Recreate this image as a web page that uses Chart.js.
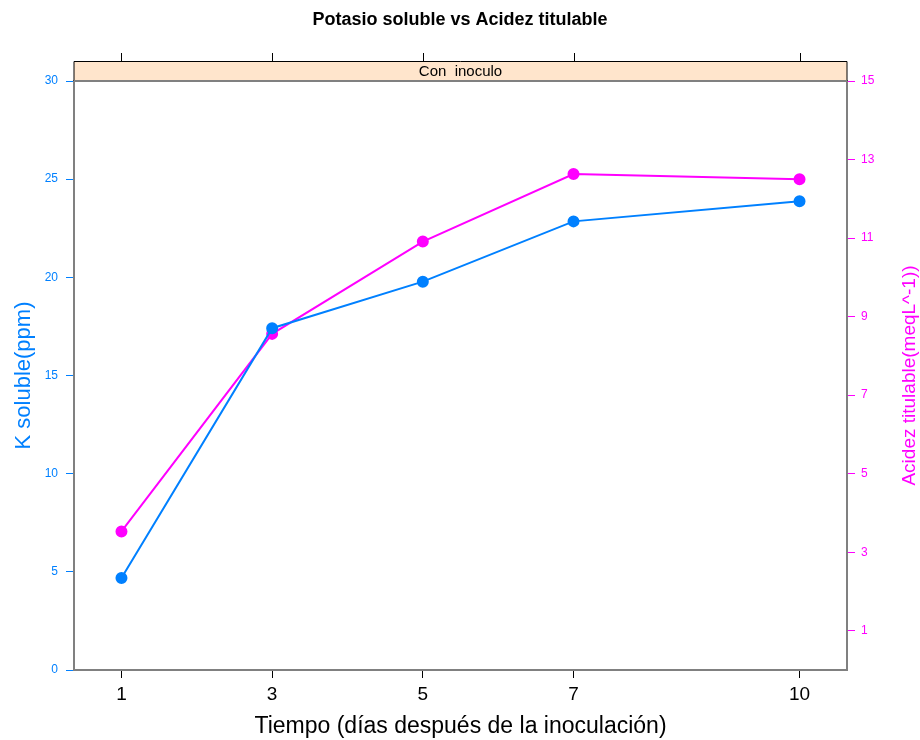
<!DOCTYPE html>
<html>
<head>
  <title>Potasio soluble vs Acidez titulable</title>
  <script src="https://cdn.jsdelivr.net/npm/chart.js"></script>
  <style>
    body { margin: 0; background: #fff; }
  </style>
</head>
<body>
  <canvas id="chart" width="920" height="740"></canvas>

  <script>
    const dias = [1, 3, 5, 7, 10];
    const kSoluble = [4.69, 17.41, 19.78, 22.85, 23.88];
    const acidez = [3.53, 8.56, 10.91, 12.63, 12.50];
    const xTicks = [1, 3, 5, 7, 10];
    const leftTicks = [0, 5, 10, 15, 20, 25, 30];
    const rightTicks = [1, 3, 5, 7, 9, 11, 13, 15];

    const blue = '#0080ff';
    const magenta = '#ff00ff';
    const frame = '#808080';
    const font = 'Arial, "Liberation Sans", sans-serif';

    const fixTicks = list => scale => {
      scale.ticks = list.map(v => ({ value: v }));
    };

    // panel strip, top ticks and the right title (reads bottom-to-top)
    const lattice = {
      id: 'lattice',
      afterDraw(chart) {
        const { ctx, chartArea: a, scales } = chart;
        ctx.save();
        ctx.fillStyle = '#ffe5cc';
        ctx.fillRect(a.left, 61, a.right - a.left, a.top - 61);
        ctx.strokeStyle = '#000';
        ctx.lineWidth = 1;
        ctx.beginPath();
        ctx.moveTo(a.left, a.top);
        ctx.lineTo(a.left, 61.5);
        ctx.lineTo(a.right, 61.5);
        ctx.lineTo(a.right, a.top);
        ctx.stroke();
        ctx.strokeStyle = frame;
        ctx.lineWidth = 2;
        ctx.beginPath();
        ctx.moveTo(a.left, a.top);
        ctx.lineTo(a.right, a.top);
        ctx.stroke();

        ctx.strokeStyle = '#000';
        ctx.lineWidth = 1;
        xTicks.forEach(v => {
          const x = Math.round(scales.x.getPixelForValue(v)) + 0.5;
          ctx.beginPath();
          ctx.moveTo(x, 61);
          ctx.lineTo(x, 53);
          ctx.stroke();
        });

        ctx.fillStyle = '#000';
        ctx.font = '15px ' + font;
        ctx.textAlign = 'center';
        ctx.textBaseline = 'middle';
        ctx.fillText('Con  inoculo', (a.left + a.right) / 2, 72);

        ctx.translate(910, (a.top + a.bottom) / 2);
        ctx.rotate(-Math.PI / 2);
        ctx.fillStyle = magenta;
        ctx.font = '19px ' + font;
        ctx.fillText('Acidez titulable(meqL^-1))', 0, 0);
        ctx.restore();
      }
    };

    new Chart(document.getElementById('chart'), {
      type: 'line',
      data: {
        datasets: [
          {
            label: 'K soluble',
            data: dias.map((d, i) => ({ x: d, y: kSoluble[i] })),
            yAxisID: 'y',
            borderColor: blue,
            backgroundColor: blue,
            borderWidth: 2,
            pointRadius: 5,
            pointHoverRadius: 5,
            tension: 0
          },
          {
            label: 'Acidez titulable',
            data: dias.map((d, i) => ({ x: d, y: acidez[i] })),
            yAxisID: 'y1',
            borderColor: magenta,
            backgroundColor: magenta,
            borderWidth: 2,
            pointRadius: 5,
            pointHoverRadius: 5,
            tension: 0
          }
        ]
      },
      options: {
        responsive: false,
        animation: false,
        layout: { padding: 0 },
        plugins: {
          legend: { display: false },
          tooltip: { enabled: false },
          title: {
            display: true,
            text: 'Potasio soluble vs Acidez titulable',
            color: '#000',
            font: { family: font, size: 18, weight: 'bold' },
            padding: { top: 9, bottom: 50.4 }
          }
        },
        scales: {
          x: {
            type: 'linear',
            min: 0.37,
            max: 10.63,
            afterBuildTicks: fixTicks(xTicks),
            afterFit: s => { s.height = 70; },
            grid: { drawOnChartArea: false, tickLength: 8, tickColor: '#000' },
            border: { color: frame, width: 2 },
            ticks: { color: '#000', font: { family: font, size: 19 }, padding: 5 },
            title: {
              display: true,
              text: 'Tiempo (días después de la inoculación)',
              color: '#000',
              font: { family: font, size: 23 },
              padding: { top: 4, bottom: 0 }
            }
          },
          y: {
            position: 'left',
            min: 0,
            max: 30,
            afterBuildTicks: fixTicks(leftTicks),
            afterFit: s => { s.width = 74; },
            grid: { drawOnChartArea: false, tickLength: 8, tickColor: blue },
            border: { color: frame, width: 2 },
            ticks: { color: blue, font: { family: font, size: 12 }, padding: 8 },
            title: {
              display: true,
              text: 'K soluble(ppm)',
              color: blue,
              font: { family: font, size: 22 },
              padding: { top: 11, bottom: 0 }
            }
          },
          y1: {
            position: 'right',
            min: 0,
            max: 15,
            afterBuildTicks: fixTicks(rightTicks),
            afterFit: s => { s.width = 73; },
            grid: { drawOnChartArea: false, tickLength: 8, tickColor: magenta },
            border: { color: frame, width: 2 },
            ticks: { color: magenta, font: { family: font, size: 12 }, padding: 6 }
          }
        }
      },
      plugins: [lattice]
    });
  </script>
</body>
</html>
